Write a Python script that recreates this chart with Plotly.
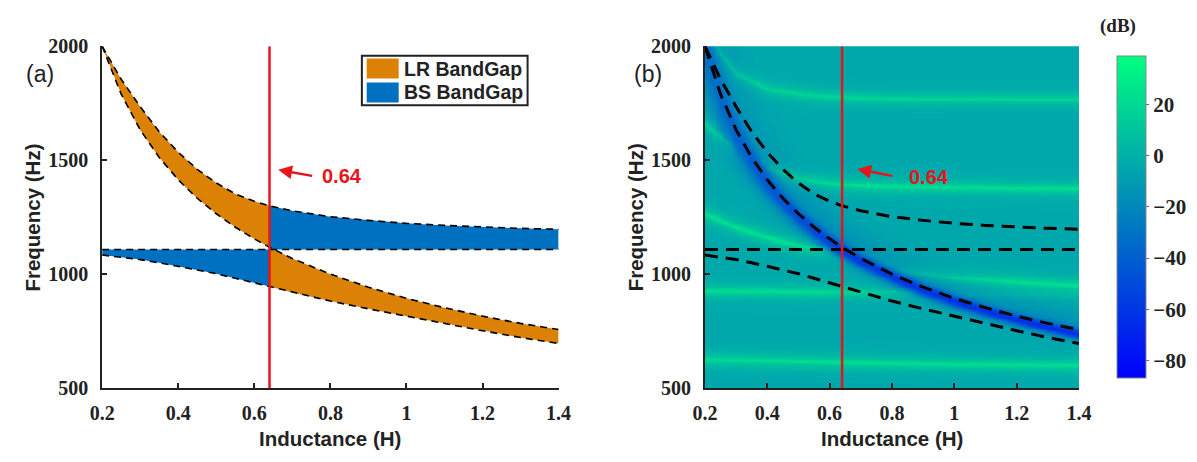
import numpy as np
import plotly.graph_objects as go

W, H = 1197, 462

# ---------------- data ----------------
inductance = [0.2, 0.25, 0.3, 0.35, 0.4, 0.45, 0.5, 0.55, 0.6, 0.64,
              0.7, 0.8, 0.9, 1.0, 1.1, 1.2, 1.3, 1.4]
edge_a = [2000, 1855, 1735, 1625, 1535, 1460, 1400, 1352, 1320, 1300,
          1278, 1252, 1236, 1223, 1214, 1207, 1201, 1197]
edge_b = [1108, 1108, 1108, 1108, 1108, 1108, 1108, 1108, 1108, 1108,
          1108, 1108, 1108, 1108, 1108, 1108, 1108, 1108]
edge_c = [2000, 1790, 1633, 1512, 1414, 1333, 1265, 1206, 1155, 1118,
          1069, 1000, 943, 894, 853, 816, 784, 757]
edge_d = [1084, 1075, 1064, 1050, 1035, 1018, 1002, 982, 962, 946,
          920, 882, 848, 815, 783, 752, 722, 696]
split_L = 0.64

# heat-map features (transmission in dB)
ridge_L = [0.2, 0.3, 0.4, 0.5, 0.6, 0.7, 0.8, 1.0, 1.2, 1.4]
ridge1_f = [2060, 1880, 1812, 1790, 1778, 1772, 1769, 1768, 1767, 1767]
ridge2_f = [1660, 1545, 1468, 1420, 1397, 1388, 1384, 1380, 1377, 1375]
ridge3_f = [1263, 1205, 1160, 1125, 1100, 1062, 1018, 983, 966, 950]
ridge4_f = [925, 924, 923, 922, 921, 920, 918, 915, 912, 910]
ridge5_f = [625, 623, 620, 617, 614, 611, 608, 605, 602, 600]
ridge1_db = [22, 22, 22, 22, 22, 22, 22, 22, 22, 22]
ridge2_db = [26, 26, 26, 26, 26, 26, 26, 26, 26, 26]
ridge3_db = [28, 28, 28, 28, 26, 22, 24, 26, 26, 26]
ridge4_db = [26, 26, 26, 26, 24, 20, 14, 9, 7, 6]
ridge5_db = [26, 26, 26, 26, 26, 26, 26, 26, 26, 26]
background_db = -4

valley_f = [1985, 1770, 1615, 1495, 1398, 1318, 1250, 1192, 1142, 1105,
            1056, 988, 930, 880, 838, 800, 767, 736]
valley_db = [-24, -26, -28, -30, -32, -34, -36, -38, -40, -42,
             -43, -44, -45, -46, -46, -47, -47, -47]
valley_width = [120, 90, 70, 55, 45, 38, 33, 30, 27, 25,
                23, 21, 20, 19, 18, 17, 17, 16]

tick_L = [0.2, 0.4, 0.6, 0.8, 1.0, 1.2, 1.4]
tick_L_text = ["0.2", "0.4", "0.6", "0.8", "1", "1.2", "1.4"]
tick_f = [500, 1000, 1500, 2000]
cbar_ticks = [20, 0, -20, -40, -60, -80]
cbar_range = [-87, 39]

# ---------------- build heat-map grid from the read features ----------------
grid_L = np.linspace(0.2, 1.4, 241)
grid_f = np.linspace(500, 2000, 376)
LL, FF = np.meshgrid(grid_L, grid_f)
z = np.full(LL.shape, float(background_db))


def ridge(fc_list, db_list):
    fc = np.interp(grid_L, ridge_L, fc_list)[None, :]
    amp = np.interp(grid_L, ridge_L, db_list)[None, :]
    d = FF - fc
    return amp * (0.6 / (1 + (d / 10.0) ** 2) + 0.4 * np.exp(-(d / 40.0) ** 2))


for fl, dl in [(ridge1_f, ridge1_db), (ridge2_f, ridge2_db), (ridge3_f, ridge3_db),
               (ridge4_f, ridge4_db), (ridge5_f, ridge5_db)]:
    z = z + ridge(fl, dl)

vc = np.interp(grid_L, inductance, valley_f)[None, :]
vd = np.interp(grid_L, inductance, valley_db)[None, :]
vw = np.interp(grid_L, inductance, valley_width)[None, :]
dv = FF - vc
core = np.exp(-0.5 * (dv / vw) ** 2)
halo = np.where(dv > 0, np.exp(-0.5 * (dv / (vw * 4.0)) ** 2),
                np.exp(-0.5 * (dv / (vw * 1.6)) ** 2))
zv = vd * core + 0.35 * vd * halo
z = np.where(zv < 0, np.minimum(z * (1 - np.clip(-zv / 30.0, 0, 1)) + zv, z), z)
z = np.clip(z, cbar_range[0], cbar_range[1])

# ---------------- figure ----------------
fig = go.Figure()

i0 = inductance.index(split_L)
Lleft = inductance[:i0 + 1]
Lright = inductance[i0:]

ORANGE = "#DB8106"
BLUE = "#0070C0"
RED = "#E8141C"

lr_x = Lleft + Lleft[::-1] + [None] + Lright + Lright[::-1]
lr_y = edge_a[:i0 + 1] + edge_c[:i0 + 1][::-1] + [None] + edge_c[i0:] + edge_d[i0:][::-1]
bs_x = Lleft + Lleft[::-1] + [None] + Lright + Lright[::-1]
bs_y = edge_b[:i0 + 1] + edge_d[:i0 + 1][::-1] + [None] + edge_a[i0:] + edge_b[i0:][::-1]

fig.add_trace(go.Scatter(x=lr_x, y=lr_y, fill="toself", fillcolor=ORANGE, mode="lines",
                         line=dict(width=0, color=ORANGE), showlegend=False, hoverinfo="skip",
                         xaxis="x", yaxis="y"))
fig.add_trace(go.Scatter(x=bs_x, y=bs_y, fill="toself", fillcolor=BLUE, mode="lines",
                         line=dict(width=0, color=BLUE), showlegend=False, hoverinfo="skip",
                         xaxis="x", yaxis="y"))

fig.add_trace(go.Heatmap(x=grid_L, y=grid_f, z=z, zmin=cbar_range[0], zmax=cbar_range[1],
                         colorscale=[[0, "rgb(0,0,255)"], [1, "rgb(0,255,128)"]],
                         xaxis="x2", yaxis="y2", hoverinfo="skip",
                         colorbar=dict(x=1129 / W, xanchor="left", xref="paper",
                                       y=1 - 396 / H, yanchor="bottom", yref="paper",
                                       len=(396 - 37) / H, lenmode="fraction",
                                       thickness=29, thicknessmode="pixels",
                                       outlinewidth=1, outlinecolor="#888",
                                       tickvals=cbar_ticks, ticks="outside", ticklen=3,
                                       tickcolor="#666", ticklabelposition="outside",
                                       tickfont=dict(family="Liberation Serif", size=21,
                                                     color="#222", weight="bold"))))

for ax_x, ax_y, lw, dash in [("x", "y", 1.6, "7px,5px"), ("x2", "y2", 3, "13px,8px")]:
    for edge in (edge_a, edge_b, edge_c, edge_d):
        fig.add_trace(go.Scatter(x=inductance, y=edge, mode="lines",
                                 line=dict(color="black", width=lw, dash=dash),
                                 showlegend=False, hoverinfo="skip", xaxis=ax_x, yaxis=ax_y))
    fig.add_trace(go.Scatter(x=[split_L, split_L], y=[500, 2000], mode="lines",
                             line=dict(color=RED, width=2.5), showlegend=False,
                             hoverinfo="skip", xaxis=ax_x, yaxis=ax_y))

TICKFONT = dict(family="Liberation Serif", size=20, color="#222", weight="bold")
axis_common = dict(showgrid=False, zeroline=False, showline=True, linecolor="#222",
                   linewidth=2, ticks="inside", ticklen=5, tickwidth=2, tickcolor="#222",
                   tickfont=TICKFONT, mirror=False)

fig.update_layout(
    width=W, height=H, margin=dict(l=0, r=0, t=0, b=0),
    paper_bgcolor="white", plot_bgcolor="white", showlegend=False,
    xaxis=dict(domain=[92 / W, 563 / W], range=[0.2, 1.4], tickvals=tick_L,
               ticktext=tick_L_text, anchor="y", ticklabelstandoff=6, **axis_common),
    yaxis=dict(domain=[1 - 396 / H, 1 - 37 / H], range=[500, 2000], tickvals=tick_f,
               anchor="x", ticklabelstandoff=8, **axis_common),
    xaxis2=dict(domain=[714 / W, 1100 / W], range=[0.2, 1.4], tickvals=tick_L,
                ticktext=tick_L_text, anchor="y2", ticklabelstandoff=6, **axis_common),
    yaxis2=dict(domain=[1 - 396 / H, 1 - 37 / H], range=[500, 2000], tickvals=tick_f,
                anchor="x2", ticklabelstandoff=8, **axis_common),
)

XTITLE = dict(family="Liberation Sans", size=20.5, color="#222", weight="bold")
YTITLE = dict(family="Liberation Sans", size=20.5, color="#222", weight="bold")
ann = []
for cx, cyy in [(327.5, 449), (907, 449)]:
    ann.append(dict(text="Inductance (H)", x=cx / W, y=1 - cyy / H, xref="paper", yref="paper",
                    showarrow=False, font=XTITLE, xanchor="center", yanchor="middle"))
for cx in (20, 642):
    ann.append(dict(text="Frequency (Hz)", x=cx / W, y=1 - 216.5 / H, xref="paper", yref="paper",
                    showarrow=False, font=YTITLE, textangle=-90, xanchor="center",
                    yanchor="middle"))
for lab, cx in [("(a)", 28), ("(b)", 655)]:
    ann.append(dict(text=lab, x=cx / W, y=1 - 66 / H, xref="paper", yref="paper",
                    showarrow=False, font=dict(family="Liberation Sans", size=23, color="#222"),
                    xanchor="center", yanchor="middle"))
ann.append(dict(text="(dB)", x=1140 / W, y=1 - 16 / H, xref="paper", yref="paper",
                showarrow=False, font=dict(family="Liberation Serif", size=19, color="#222",
                                           weight="bold"),
                xanchor="center", yanchor="middle"))
# arrows and labels
for xr, yr, head, tail, txt in [("x", "y", (0.663, 1458), (0.756, 1430), (0.772, 1432)),
                                ("x2", "y2", (0.689, 1461), (0.806, 1430), (0.848, 1425))]:
    ann.append(dict(x=head[0], y=head[1], ax=tail[0], ay=tail[1], xref=xr, yref=yr,
                    axref=xr, ayref=yr, showarrow=True, arrowhead=2, arrowsize=1.1,
                    arrowwidth=2.5, arrowcolor=RED, text=""))
    ann.append(dict(text="0.64", x=txt[0], y=txt[1], xref=xr, yref=yr, showarrow=False,
                    xanchor="left", yanchor="middle",
                    font=dict(family="Liberation Sans", size=20, color=RED, weight="bold")))
# legend texts
LEGFONT = dict(family="Liberation Sans", size=19.5, color="#222", weight="bold")
for txt, cy in [("LR BandGap", 60.5), ("BS BandGap", 85.5)]:
    ann.append(dict(text=txt, x=401 / W, y=1 - cy / H, xref="paper", yref="paper",
                    showarrow=False, font=LEGFONT, xanchor="left", yanchor="middle"))
fig.update_layout(annotations=ann)

shapes = [
    dict(type="rect", xref="paper", yref="paper", x0=360 / W, x1=531 / W, y0=1 - 99 / H,
         y1=1 - 47 / H, line=dict(color="#222", width=2), fillcolor="white", layer="above"),
    dict(type="rect", xref="paper", yref="paper", x0=365 / W, x1=398 / W, y0=1 - 71 / H,
         y1=1 - 50 / H, line=dict(width=0), fillcolor=ORANGE, layer="above"),
    dict(type="rect", xref="paper", yref="paper", x0=365 / W, x1=398 / W, y0=1 - 96 / H,
         y1=1 - 75 / H, line=dict(width=0), fillcolor=BLUE, layer="above"),
]
fig.update_layout(shapes=shapes)

fig.write_html("out.html")
